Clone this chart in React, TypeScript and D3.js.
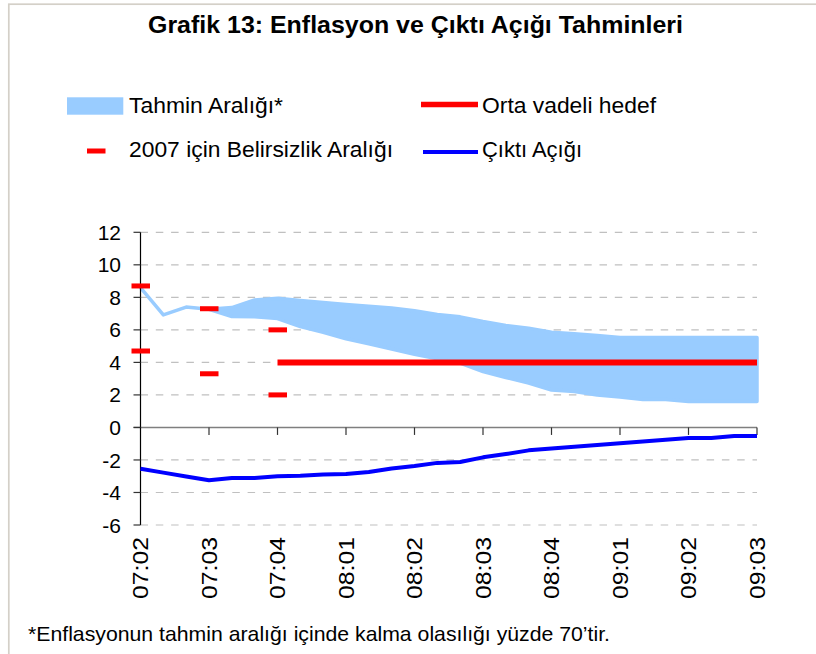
import * as React from "react";
import * as d3 from "d3";

// quarter labels (every 3rd month)
const quarterLabels = ["07:02", "07:03", "07:04", "08:01", "08:02", "08:03", "08:04", "09:01", "09:02", "09:03"];

// monthly series, 28 months from 07:02 to 09:03
const bandUpper = [8.6, 6.92, 7.4, 7.27, 7.37, 7.84, 7.95, 7.8, 7.68, 7.56, 7.46, 7.35, 7.17, 6.95,
  6.8, 6.51, 6.27, 6.1, 5.86, 5.76, 5.65, 5.53, 5.53, 5.53, 5.53, 5.53, 5.53, 5.53];
const bandLower = [8.6, 6.92, 7.4, 7.27, 6.82, 6.8, 6.7, 6.2, 5.85, 5.45, 5.15, 4.82, 4.5, 4.22,
  3.95, 3.44, 3.07, 2.73, 2.3, 2.21, 2.0, 1.87, 1.72, 1.72, 1.6, 1.6, 1.6, 1.6];
const target = [null, null, null, null, null, null, 4, 4, 4, 4, 4, 4, 4, 4,
  4, 4, 4, 4, 4, 4, 4, 4, 4, 4, 4, 4, 4, 4];
const outputGap = [-2.54, -2.78, -3.02, -3.25, -3.11, -3.11, -3.0, -2.97, -2.89, -2.87, -2.74, -2.52, -2.37, -2.18,
  -2.13, -1.84, -1.64, -1.41, -1.29, -1.19, -1.08, -0.98, -0.86, -0.76, -0.65, -0.65, -0.53, -0.53];

// 2007 uncertainty range
const uncertaintyMonths = [0, 3, 6];
const uncertaintyHigh = [8.7, 7.3, 6.0];
const uncertaintyLow = [4.7, 3.3, 2.0];

const yTicks = [12, 10, 8, 6, 4, 2, 0, -2, -4, -6];

const FONT = "'Liberation Sans', Arial, sans-serif";
const BLUE_BAND = "#99ccff";

export default class App extends React.Component {
  node: SVGSVGElement | null = null;

  drawChart() {
    const svg = d3.select(this.node);
    svg.selectAll("*").remove();

    const left = 140.5, right = 757;
    const x = d3.scaleLinear().domain([0, bandUpper.length - 1]).range([left, right]);
    const y = d3.scaleLinear().domain([-6, 12]).range([525, 232.3]);

    // frame
    svg.append("rect")
      .attr("x", 8.8).attr("y", 4.2)
      .attr("width", 900).attr("height", 800)
      .attr("fill", "none")
      .attr("stroke", "#d4d0c8")
      .attr("stroke-width", 1.7);

    // title
    svg.append("text")
      .attr("x", 148).attr("y", 33)
      .attr("font-family", FONT)
      .attr("font-weight", "bold")
      .attr("font-size", 24.5)
      .attr("textLength", 535)
      .attr("lengthAdjust", "spacingAndGlyphs")
      .text("Grafik 13: Enflasyon ve Çıktı Açığı Tahminleri");

    // legend
    const legend = svg.append("g").attr("font-family", FONT).attr("font-size", 22.5);
    const legendText = (tx: number, ty: number, w: number, s: string) =>
      legend.append("text").attr("x", tx).attr("y", ty)
        .attr("textLength", w).attr("lengthAdjust", "spacingAndGlyphs").text(s);
    legend.append("rect").attr("x", 67).attr("y", 97.3).attr("width", 56.3).attr("height", 17.4).attr("fill", BLUE_BAND);
    legendText(129, 112.7, 154, "Tahmin Aralığı*");
    legend.append("line").attr("x1", 421).attr("x2", 478).attr("y1", 104.5).attr("y2", 104.5)
      .attr("stroke", "#ff0000").attr("stroke-width", 5.5);
    legendText(482, 112.7, 174, "Orta vadeli hedef");
    legend.append("rect").attr("x", 87).attr("y", 148.5).attr("width", 18.5).attr("height", 5).attr("fill", "#ff0000");
    legendText(129, 157, 264, "2007 için Belirsizlik Aralığı");
    legend.append("line").attr("x1", 423).attr("x2", 478).attr("y1", 152).attr("y2", 152)
      .attr("stroke", "#0000ff").attr("stroke-width", 4);
    legendText(482, 157, 100, "Çıktı Açığı");

    // grid
    svg.append("g").selectAll("line")
      .data(yTicks.filter(d => d !== 0))
      .enter().append("line")
      .attr("x1", left).attr("x2", right)
      .attr("y1", d => y(d)).attr("y2", d => y(d))
      .attr("stroke", "#c0c0c0")
      .attr("stroke-width", 1.2)
      .attr("stroke-dasharray", "7.5 7.8");

    // forecast band
    const idx = d3.range(bandUpper.length);
    const area = d3.area<number>()
      .x(i => x(i))
      .y0(i => y(bandLower[i]))
      .y1(i => y(bandUpper[i]));
    svg.append("path")
      .attr("d", area(idx))
      .attr("fill", BLUE_BAND)
      .attr("stroke", BLUE_BAND)
      .attr("stroke-width", 3.5)
      .attr("stroke-linejoin", "round");

    // x axis line + ticks
    const xAxis = svg.append("g");
    xAxis.append("line")
      .attr("x1", left - 7).attr("x2", right)
      .attr("y1", y(0)).attr("y2", y(0))
      .attr("stroke", "#7f7f7f").attr("stroke-width", 1.5);
    xAxis.selectAll("line.tick")
      .data(quarterLabels.slice(1))
      .enter().append("line")
      .attr("class", "tick")
      .attr("x1", (d, i) => x((i + 1) * 3)).attr("x2", (d, i) => x((i + 1) * 3))
      .attr("y1", y(0)).attr("y2", y(0) + 7.5)
      .attr("stroke", "#333").attr("stroke-width", 1.2);
    xAxis.selectAll("text")
      .data(quarterLabels)
      .enter().append("text")
      .attr("transform", (d, i) => `translate(${x(i * 3)},537) rotate(-90)`)
      .attr("text-anchor", "end")
      .attr("dy", "0.36em")
      .attr("font-family", FONT)
      .attr("font-size", 22)
      .attr("textLength", 62)
      .attr("lengthAdjust", "spacingAndGlyphs")
      .text(d => d);

    // y axis
    const yAxis = svg.append("g");
    yAxis.append("line")
      .attr("x1", left).attr("x2", left)
      .attr("y1", y(12)).attr("y2", y(-6))
      .attr("stroke", "#000").attr("stroke-width", 1.2);
    yAxis.selectAll("line.tick")
      .data(yTicks)
      .enter().append("line")
      .attr("class", "tick")
      .attr("x1", left - 7).attr("x2", left)
      .attr("y1", d => y(d)).attr("y2", d => y(d))
      .attr("stroke", "#333").attr("stroke-width", 1.2);
    yAxis.selectAll("text")
      .data(yTicks)
      .enter().append("text")
      .attr("x", 121).attr("y", d => y(d))
      .attr("dy", "0.36em")
      .attr("text-anchor", "end")
      .attr("font-family", FONT)
      .attr("font-size", 21)
      .text(d => d);

    // medium term target
    const line = d3.line<number | null>()
      .defined(d => d !== null)
      .x((d, i) => x(i))
      .y(d => y(d as number));
    svg.append("path")
      .attr("d", line(target))
      .attr("fill", "none")
      .attr("stroke", "#ff0000")
      .attr("stroke-width", 6);

    // 2007 uncertainty markers
    const marks = svg.append("g").attr("fill", "#ff0000");
    uncertaintyMonths.forEach((m, i) => {
      [uncertaintyHigh[i], uncertaintyLow[i]].forEach(v => {
        marks.append("rect")
          .attr("x", x(m) - 9).attr("y", y(v) - 2.5)
          .attr("width", 18.5).attr("height", 5);
      });
    });

    // output gap
    svg.append("path")
      .attr("d", line(outputGap))
      .attr("fill", "none")
      .attr("stroke", "#0000ff")
      .attr("stroke-width", 4)
      .attr("stroke-linejoin", "round");

    // footnote
    svg.append("text")
      .attr("x", 28).attr("y", 641)
      .attr("font-family", FONT)
      .attr("font-size", 21)
      .attr("textLength", 582)
      .attr("lengthAdjust", "spacingAndGlyphs")
      .text("*Enflasyonun tahmin aralığı içinde kalma olasılığı yüzde 70’tir.");
  }

  componentDidMount() {
    this.drawChart();
  }

  render() {
    return (
      <svg
        ref={n => { this.node = n; }}
        width={816}
        height={654}
        style={{ position: "absolute", left: 0, top: 0, background: "#fff" }}
      />
    );
  }
}
